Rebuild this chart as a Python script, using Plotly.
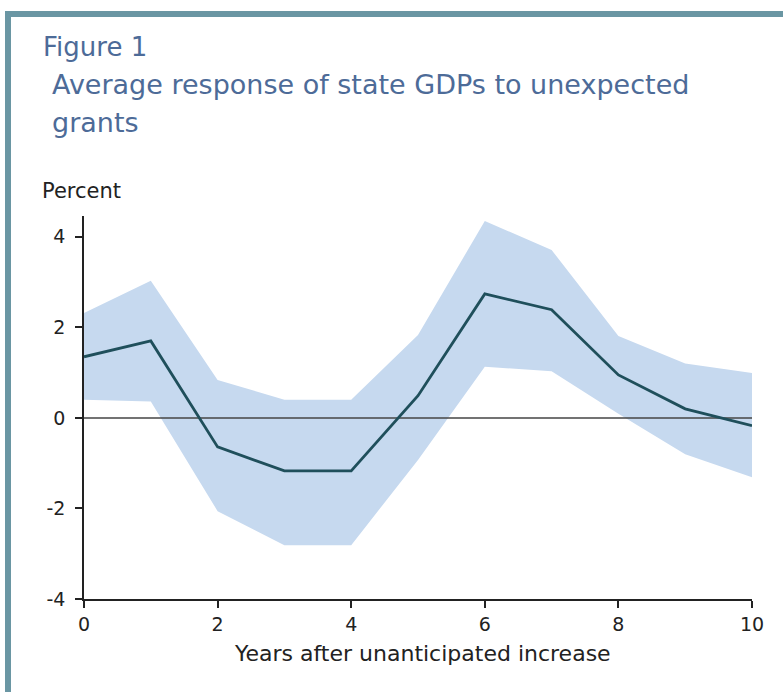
import plotly.graph_objects as go

years = [0, 1, 2, 3, 4, 5, 6, 7, 8, 9, 10]
response = [1.35, 1.70, -0.64, -1.17, -1.17, 0.49, 2.74, 2.39, 0.95, 0.20, -0.17]
upper = [2.32, 3.03, 0.84, 0.40, 0.40, 1.83, 4.35, 3.71, 1.81, 1.20, 0.99]
lower = [0.40, 0.36, -2.06, -2.81, -2.81, -0.93, 1.13, 1.03, 0.09, -0.80, -1.31]
x_ticks = [0, 2, 4, 6, 8, 10]
y_ticks = [-4, -2, 0, 2, 4]
y_tick_labels = ["-4", "-2", "0", "2", "4"]

W, H = 783, 692
ML, MR, MT, MB = 84, 31, 216, 93
PW, PH = W - ML - MR, H - MT - MB

def px(x):
    return (x - ML) / PW

def py(y):
    return (H - MB - y) / PH

fig = go.Figure()
fig.add_trace(go.Scatter(x=years, y=lower, mode="lines", line=dict(width=0),
                         hoverinfo="skip", showlegend=False))
fig.add_trace(go.Scatter(x=years, y=upper, mode="lines", line=dict(width=0),
                         fill="tonexty", fillcolor="#c6d9ef",
                         hoverinfo="skip", showlegend=False))
fig.add_trace(go.Scatter(x=[years[0], years[-1]], y=[0, 0], mode="lines",
                         line=dict(color="#444444", width=1.5), showlegend=False))
fig.add_trace(go.Scatter(x=years, y=response, mode="lines",
                         line=dict(color="#1f4f5b", width=2.8), showlegend=False))

title_font = dict(family="DejaVu Sans", size=26, color="#4d6b98")
title_font2 = dict(family="DejaVu Sans", size=27, color="#4d6b98")
text_font = dict(family="DejaVu Sans", size=19, color="#222222")

annotations = [
    dict(text="Figure 1", x=px(41), y=py(47), xanchor="left", yanchor="middle", font=title_font),
    dict(text="Average response of state GDPs to unexpected", x=px(50), y=py(85), xanchor="left", yanchor="middle", font=title_font2),
    dict(text="grants", x=px(50), y=py(122), xanchor="left", yanchor="middle", font=title_font2),
    dict(text="Percent", x=px(40), y=py(191), xanchor="left", yanchor="middle",
         font=dict(family="DejaVu Sans", size=21, color="#222222")),
    dict(text="Years after unanticipated increase", x=px(422), y=py(653), xanchor="center", yanchor="middle",
         font=dict(family="DejaVu Sans", size=22, color="#222222")),
]
for a in annotations:
    a.update(xref="paper", yref="paper", showarrow=False)

shapes = [
    dict(type="rect", xref="paper", yref="paper", x0=px(5), x1=px(W), y0=py(11), y1=py(17),
         fillcolor="#6a96a3", line=dict(width=0), layer="above"),
    dict(type="rect", xref="paper", yref="paper", x0=px(5), x1=px(11), y0=py(11), y1=py(H),
         fillcolor="#6a96a3", line=dict(width=0), layer="above"),
]

fig.update_layout(
    width=W, height=H,
    margin=dict(l=ML, r=MR, t=MT, b=MB),
    paper_bgcolor="white", plot_bgcolor="white",
    annotations=annotations, shapes=shapes,
    xaxis=dict(range=[0, 10], tickvals=x_ticks, showgrid=False, zeroline=False,
               showline=True, linecolor="#222222", linewidth=1.5,
               ticks="outside", ticklen=7, tickcolor="#222222", tickwidth=1.5,
               tickfont=text_font),
    yaxis=dict(range=[-4, 4.46], tickvals=y_ticks, ticktext=y_tick_labels,
               showgrid=False, zeroline=False,
               showline=True, linecolor="#222222", linewidth=1.5,
               ticks="outside", ticklen=7, tickcolor="#222222", tickwidth=1.5,
               ticklabelstandoff=6, tickfont=text_font),
)

fig.write_html("out.html")
